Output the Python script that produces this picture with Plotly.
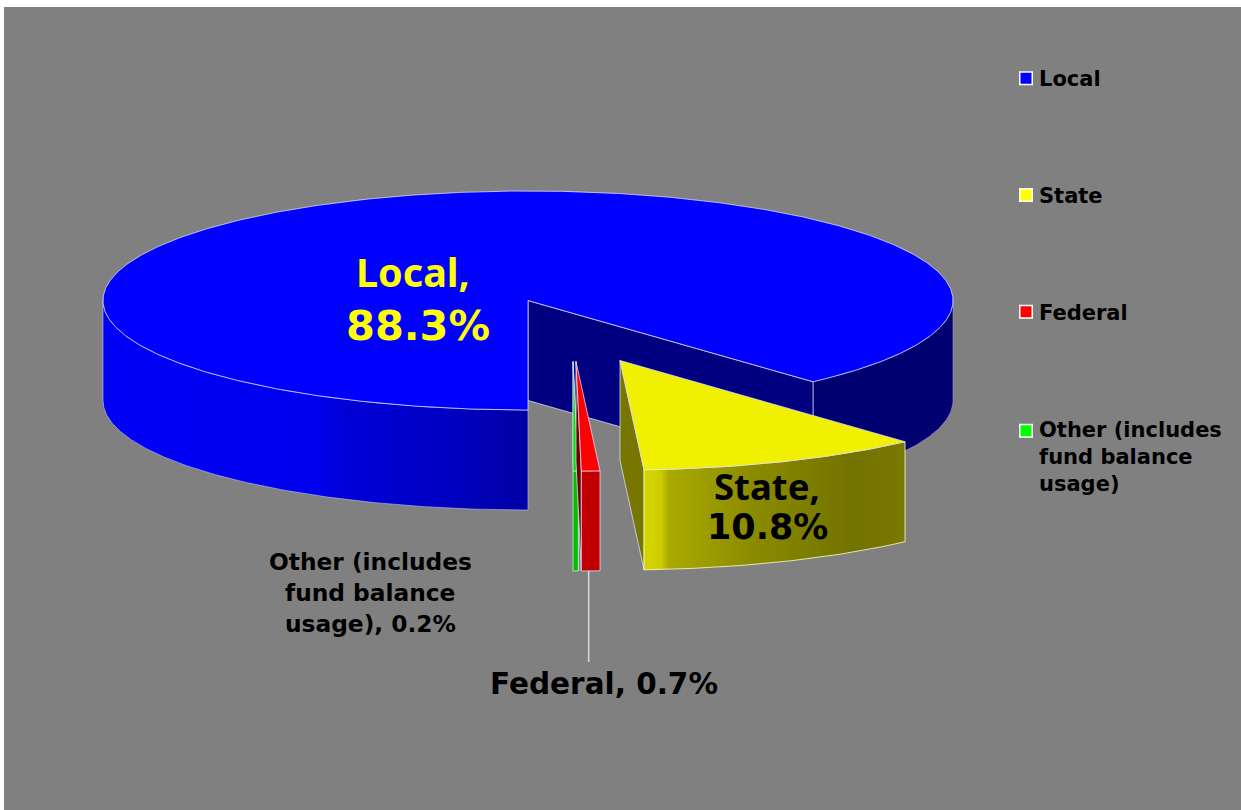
import numpy as np
import plotly.graph_objects as go

categories = ["Local", "State", "Federal", "Other (includes fund balance usage)"]
values = [88.3, 10.8, 0.7, 0.2]
top_colors = ["#0000ff", "#f0f000", "#ff0000", "#00e000"]
legend_colors = ["#0000ff", "#ffff00", "#ff0000", "#00ff00"]
legend_labels = ["Local", "State", "Federal", "Other (includes<br>fund balance<br>usage)"]
offsets = [(0, 0), (92, 60), (48, 61), (45, 61)]

DEJAVU = "DejaVu Sans, Verdana, sans-serif"
NOTO = "Noto Sans, Open Sans, sans-serif"
# one row per printed line of a data label: text, centre x, centre y, size, colour, font
label_rows = [
    ("Local,", 413, 272, 39.5, "#ffff00", NOTO),
    (f"{values[0]}%", 418, 325, 41.5, "#ffff00", DEJAVU),
    ("State,", 767, 486, 36.5, "#000000", NOTO),
    (f"{values[1]}%", 767, 527, 35, "#000000", DEJAVU),
    (f"Federal, {values[2]}%", 604, 684, 29.5, "#000000", DEJAVU),
    ("Other (includes", 370, 561, 23.3, "#000000", DEJAVU),
    ("fund balance", 370, 592, 23.3, "#000000", DEJAVU),
    (f"usage), {values[3]}%", 370, 623, 23.3, "#000000", DEJAVU),
]

CX, CY, RX, RY, DEPTH = 528.0, 300.5, 425.0, 109.5, 100.0
EDGE = "rgba(225,225,255,0.75)"

fig = go.Figure()


def arc(t0, t1, off=(0, 0), drop=0.0):
    t = np.radians(np.linspace(t0, t1, max(3, int(abs(t1 - t0) * 2))))
    return CX + off[0] + RX * np.cos(t), CY + off[1] + drop + RY * np.sin(t)


def poly(x, y, fill, line=EDGE, width=1, gradient=None):
    x = list(x) + [x[0]]
    y = list(y) + [y[0]]
    kw = dict(fillgradient=gradient) if gradient else dict(fillcolor=fill)
    fig.add_trace(go.Scatter(x=x, y=y, mode="lines", fill="toself",
                             line=dict(color=line, width=width),
                             showlegend=False, hoverinfo="skip", **kw))


def wall(t0, t1, off, fill=None, gradient=None, line=EDGE):
    x, y = arc(t0, t1, off)
    xb, yb = arc(t0, t1, off, DEPTH)
    poly(np.r_[x, xb[::-1]], np.r_[y, yb[::-1]], fill, gradient=gradient, line=line)


def top(t0, t1, off, fill):
    x, y = arc(t0, t1, off)
    poly(np.r_[CX + off[0], x], np.r_[CY + off[1], y], fill)


def side(t, off, fill):
    x, y = arc(t, t + 0.01, off)
    ax, ay = CX + off[0], CY + off[1]
    poly([ax, x[0], x[0], ax], [ay, y[0], y[0] + DEPTH, ay + DEPTH], fill)


# slice angles, clockwise from the bottom of the ellipse
angles = 90 + np.r_[0, np.cumsum(values)] * 3.6
a_local = (angles[0], angles[1])
a_state = (angles[1] - 360, angles[2] - 360)
a_fed = (angles[2] - 360, angles[3] - 360)
a_other = (angles[3] - 360, angles[4] - 360)

# Local: back wall, cut face, front wall, top
wall(0, a_state[0], (0, 0), "#000070", line="rgba(170,170,230,0.5)")
side(a_state[0], (0, 0), "#000080")
blue_grad = dict(type="horizontal", start=103, stop=528,
                 colorscale=[[0, "#0000f8"], [0.5, "#0000ee"], [0.56, "#0000d8"],
                             [0.8, "#0000c4"], [1, "#0000a4"]])
wall(90, 180, (0, 0), gradient=blue_grad, line="rgba(190,190,240,0.6)")
top(a_local[0], a_local[1], (0, 0), top_colors[0])

# Other
side(a_other[0], offsets[3], "#008000")
wall(a_other[0], a_other[1], offsets[3], "#00c000")
top(a_other[0], a_other[1], offsets[3], top_colors[3])

# Federal
side(a_fed[1], offsets[2], "#700000")
wall(a_fed[0], a_fed[1], offsets[2], "#c00000")
top(a_fed[0], a_fed[1], offsets[2], top_colors[2])

# State
side(a_state[1], offsets[1], "#767600")
yellow_grad = dict(type="horizontal", start=645, stop=906,
                   colorscale=[[0, "#d4d400"], [0.06, "#cfcf00"], [0.09, "#aaaa00"],
                               [0.4, "#8c8c00"], [0.8, "#727200"], [1, "#7a7a00"]])
wall(a_state[0], a_state[1], offsets[1], gradient=yellow_grad, line="rgba(255,255,200,0.8)")
top(a_state[0], a_state[1], offsets[1], top_colors[1])

# Leader line for Federal
fx, fy = arc(a_fed[0], a_fed[1], offsets[2], DEPTH)
lx = fx.mean() - 2
fig.add_trace(go.Scatter(x=[lx, lx], y=[fy.mean(), 662], mode="lines",
                         line=dict(color="#d9d9d9", width=1.5),
                         showlegend=False, hoverinfo="skip"))

# Legend entries
for name, col, lab in zip(categories, legend_colors, legend_labels):
    fig.add_trace(go.Scatter(x=[None], y=[None], mode="markers", name=lab, legendgroup=name,
                             marker=dict(symbol="square", size=12.5, color=col,
                                         line=dict(color="#ffffff", width=1.5))))

# Data labels
for text, x, y, s, c, f in label_rows:
    fig.add_annotation(x=x, y=y, xref="x", yref="y", showarrow=False, align="center",
                       text=f"<b>{text}</b>", font=dict(family=f, size=s, color=c))

fig.update_layout(
    width=1241, height=810, autosize=False,
    margin=dict(l=4, r=0, t=7, b=0, pad=0),
    paper_bgcolor="#ffffff", plot_bgcolor="#808080",
    xaxis=dict(range=[4, 1241], visible=False, fixedrange=True),
    yaxis=dict(range=[810, 7], visible=False, fixedrange=True),
    showlegend=True,
    legend=dict(x=(1006 + 7 - 4) / 1237, xanchor="left", y=1 - (58 - 7) / 803, yanchor="top",
                bgcolor="rgba(0,0,0,0)", tracegroupgap=86.5, indentation=-14,
                font=dict(family=DEJAVU, size=21, color="#000000", weight="bold")),
)

# Seat the legend swatches closer to their labels, and keep the multi-line entry's swatch
# on the first line of its label, as in the reference.
post = """
document.body.style.margin='0';
var pts = document.querySelectorAll('.legend .legendpoints');
pts.forEach(function (g, i) {
  var dy = (i === pts.length - 1) ? -25 : 0;
  g.setAttribute('transform', (g.getAttribute('transform') || '') + ' translate(7,' + dy + ')');
});
"""
fig.write_html("out.html", config=dict(displayModeBar=False), post_script=post)
